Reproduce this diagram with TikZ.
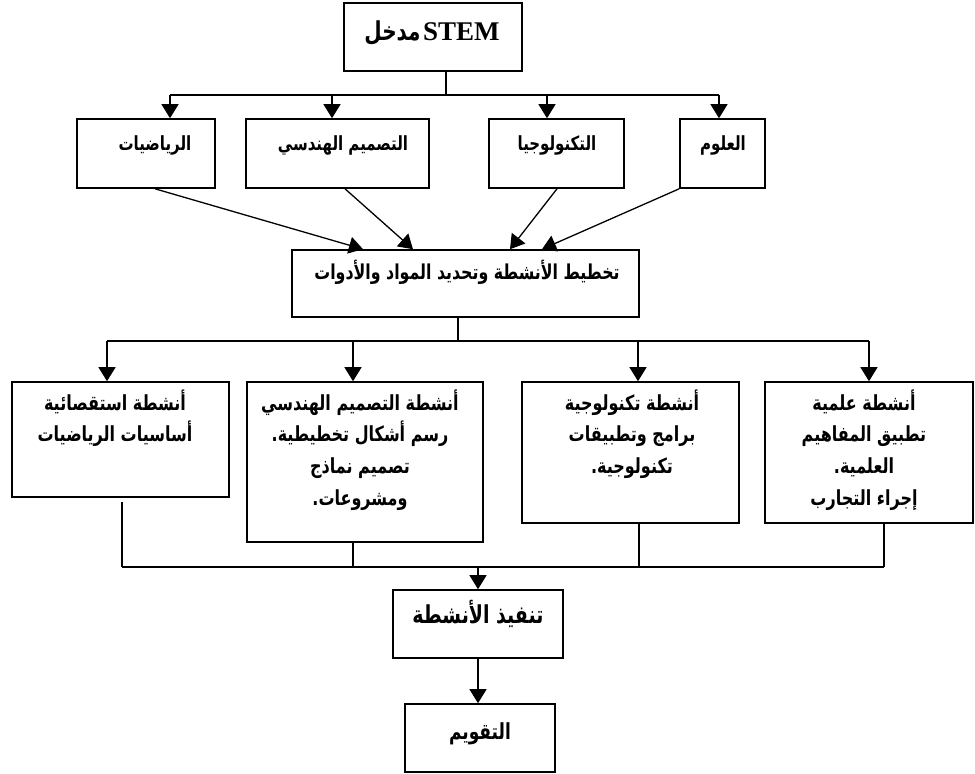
\documentclass[tikz,border=0pt]{standalone}
\usepackage{fontspec}
\usepackage{graphicx}
\setmainfont{Liberation Serif}
\newfontfamily\arabicfont[Script=Arabic]{DejaVu Sans}
\TeXXeTstate=1
\usetikzlibrary{arrows.meta,fit}
\newcommand{\arx}[1]{\scalebox{1}[1.3]{\beginR #1\endR}}
\begin{document}
\begin{tikzpicture}[x=1pt,y=-1pt,
  box/.style={draw, line width=1.6pt, inner sep=0pt},
  conn/.style={line width=1.3pt},
  arr/.style={line width=1.3pt, -{Triangle[length=14pt,width=17pt]}},
  ar/.style={font=\arabicfont\bfseries\fontsize{15}{30}\selectfont, align=center, inner sep=0pt, anchor=base},
  armid/.style={font=\arabicfont\bfseries\fontsize{15.8}{30}\selectfont, align=center, inner sep=0pt, anchor=base},
  arbig/.style={font=\arabicfont\bfseries\fontsize{16}{31.7}\selectfont, align=center, inner sep=0pt, anchor=north},
  arhuge/.style={font=\arabicfont\bfseries\fontsize{19}{30}\selectfont, align=center, inner sep=0pt, anchor=base},
  areval/.style={font=\arabicfont\bfseries\fontsize{17}{30}\selectfont, align=center, inner sep=0pt, anchor=base}]
\useasboundingbox (0,0) rectangle (975,774);
% boxes
\node[box, fit={(344,3) (522,71)}] (stem) {};
\node[box, fit={(77,119) (215,188)}] (math) {};
\node[box, fit={(246,119) (429,188)}] (eng) {};
\node[box, fit={(489,119) (624,188)}] (tech) {};
\node[box, fit={(680,119) (765,188)}] (sci) {};
\node[box, fit={(292,250) (639,317)}] (plan) {};
\node[box, fit={(12,382) (229,497)}] (a1) {};
\node[box, fit={(247,382) (483,542)}] (a2) {};
\node[box, fit={(522,382) (739,523)}] (a3) {};
\node[box, fit={(765,382) (973,523)}] (a4) {};
\node[box, fit={(393,590) (563,658)}] (exec) {};
\node[box, fit={(405,704) (555,772)}] (eval) {};
% texts
\node[anchor=base, inner sep=0pt] (tstem) at (432,40) {{\arabicfont\bfseries\fontsize{20}{30}\selectfont\arx{مدخل}}\ {\bfseries\fontsize{27}{30}\selectfont STEM}};
\node[ar] (tmath) at (155,150) {\arx{الرياضيات}};
\node[ar] (teng) at (343,150) {\arx{التصميم الهندسي}};
\node[ar] (ttech) at (557,150) {\arx{التكنولوجيا}};
\node[ar] (tsci) at (723,150) {\arx{العلوم}};
\node[armid] (tplan) at (467,279) {\arx{تخطيط الأنشطة وتحديد المواد والأدوات}};
\node[arbig] (ta1) at (115,387) {\rule{0pt}{23pt}\arx{أنشطة استقصائية}\\\arx{أساسيات الرياضيات}};
\node[arbig] (ta2) at (360,387) {\rule{0pt}{23pt}\arx{أنشطة التصميم الهندسي}\\\arx{رسم أشكال تخطيطية.}\\\arx{تصميم نماذج}\\\arx{ومشروعات.}};
\node[arbig] (ta3) at (632,387) {\rule{0pt}{23pt}\arx{أنشطة تكنولوجية}\\\arx{برامج وتطبيقات}\\\arx{تكنولوجية.}};
\node[arbig] (ta4) at (864,387) {\rule{0pt}{23pt}\arx{أنشطة علمية}\\\arx{تطبيق المفاهيم}\\\arx{العلمية.}\\\arx{إجراء التجارب}};
\node[arhuge] (texec) at (478,623) {\arx{تنفيذ الأنشطة}};
\node[areval] (teval) at (480,739) {\arx{التقويم}};
% top bus
\coordinate (s0) at (446,95);
\coordinate (b1) at (170,95);
\coordinate (b2) at (332,95);
\coordinate (b3) at (547,95);
\coordinate (b4) at (719,95);
\draw[conn] (stem.south -| s0) -- (s0);
\draw[conn] (b1) -- (b4);
\draw[arr] (b1) -- (b1 |- math.north);
\draw[arr] (b2) -- (b2 |- eng.north);
\draw[arr] (b3) -- (b3 |- tech.north);
\draw[arr] (b4) -- (b4 |- sci.north);
% converging arrows
\coordinate (m1) at (155,188);
\coordinate (m2) at (345,188);
\coordinate (m3) at (557,188);
\coordinate (p1) at (363,250);
\coordinate (p2) at (413,250);
\coordinate (p3) at (510,250);
\coordinate (p4) at (542,250);
\draw[arr] (m1 |- math.south) -- (p1 |- plan.north);
\draw[arr] (m2 |- eng.south) -- (p2 |- plan.north);
\draw[arr] (m3 |- tech.south) -- (p3 |- plan.north);
\draw[arr] (sci.south west) -- (p4 |- plan.north);
% middle bus
\coordinate (c0) at (458,341);
\coordinate (c1) at (107,341);
\coordinate (c2) at (353,341);
\coordinate (c3) at (638,341);
\coordinate (c4) at (869,341);
\draw[conn] (plan.south -| c0) -- (c0);
\draw[conn] (c1) -- (c4);
\draw[arr] (c1) -- (c1 |- a1.north);
\draw[arr] (c2) -- (c2 |- a2.north);
\draw[arr] (c3) -- (c3 |- a3.north);
\draw[arr] (c4) -- (c4 |- a4.north);
% lower bus
\coordinate (d1) at (122,567);
\coordinate (d2) at (353,567);
\coordinate (d3) at (639,567);
\coordinate (d4) at (884,567);
\coordinate (d0) at (478,567);
\coordinate (g1) at (122,502);
\draw[conn] (g1) -- (d1);
\draw[conn] (a2.south -| d2) -- (d2);
\draw[conn] (a3.south -| d3) -- (d3);
\draw[conn] (a4.south -| d4) -- (d4);
\draw[conn] (d1) -- (d4);
\draw[arr] (d0) -- (d0 |- exec.north);
\draw[arr] (exec.south -| d0) -- (d0 |- eval.north);
\end{tikzpicture}
\end{document}
